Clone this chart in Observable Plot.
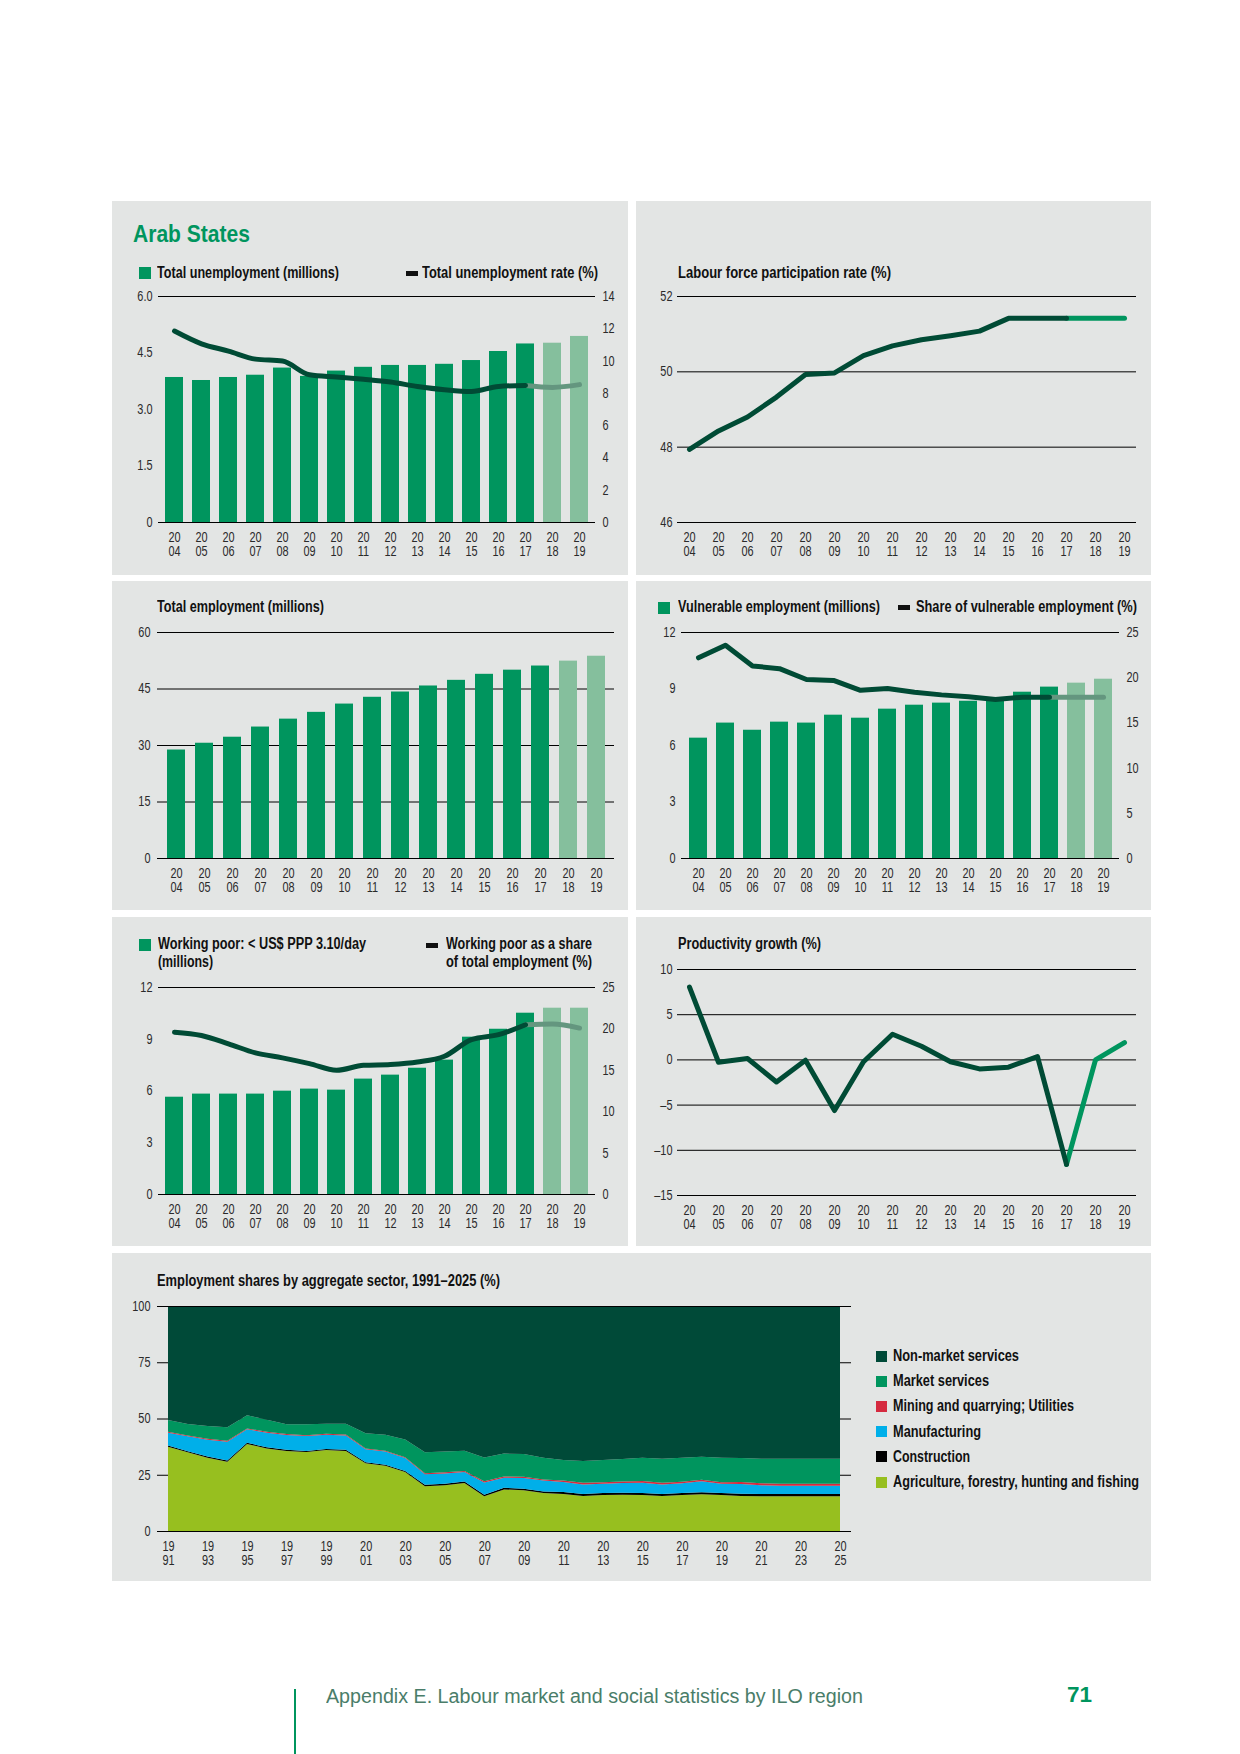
<!DOCTYPE html>
<html>
<head>
<meta charset="utf-8">
<script src="https://cdn.jsdelivr.net/npm/d3@7"></script>
<script src="https://cdn.jsdelivr.net/npm/@observablehq/plot@0.6"></script>
<style>
  html, body { margin: 0; padding: 0; background: #fff; }
  #page { position: relative; width: 1240px; height: 1754px; background: #fff; overflow: hidden;
          font-family: "Liberation Sans", Arial, sans-serif; }
  .panel { position: absolute; background: #e3e5e4; }
  .t { position: absolute; line-height: 1; white-space: nowrap; transform-origin: 0 0; }
  .abs { position: absolute; }
  svg { overflow: visible; }
</style>
</head>
<body>
<div id="page"></div>
<script>
// ---------------- DATA ----------------
const years = [2004, 2005, 2006, 2007, 2008, 2009, 2010, 2011, 2012, 2013, 2014, 2015, 2016, 2017, 2018, 2019];
const firstProjectedYear = 2018;
const lastActualYear = 2017;

const unemployment = [3.85, 3.77, 3.85, 3.91, 4.10, 3.88, 4.02, 4.12, 4.17, 4.17, 4.20, 4.30, 4.54, 4.74, 4.76, 4.94];
const unemploymentRate = [11.86, 11.07, 10.62, 10.12, 10.0, 9.15, 9.01, 8.87, 8.70, 8.43, 8.23, 8.12, 8.43, 8.49, 8.37, 8.54];

const lfpr = [47.94, 48.43, 48.80, 49.33, 49.93, 49.97, 50.43, 50.69, 50.85, 50.96, 51.08, 51.42, 51.42, 51.42, 51.42, 51.42];

const employment = [28.8, 30.6, 32.2, 34.9, 37.0, 38.8, 41.0, 42.8, 44.2, 45.8, 47.3, 48.9, 50.0, 51.1, 52.4, 53.7];

const vulnerable = [6.39, 7.19, 6.81, 7.24, 7.19, 7.61, 7.45, 7.93, 8.14, 8.25, 8.35, 8.55, 8.83, 9.10, 9.31, 9.52];
const vulnerableShare = [22.2, 23.6, 21.3, 21.0, 19.8, 19.7, 18.6, 18.8, 18.4, 18.1, 17.9, 17.6, 17.85, 17.85, 17.85, 17.85];

const workingPoor = [5.64, 5.82, 5.82, 5.82, 5.99, 6.11, 6.05, 6.69, 6.92, 7.32, 7.79, 9.12, 9.58, 10.51, 10.80, 10.80];
const workingPoorShare = [19.6, 19.2, 18.2, 17.1, 16.5, 15.8, 15.0, 15.6, 15.7, 16.0, 16.7, 18.7, 19.3, 20.5, 20.6, 20.1];

const productivity = [8.05, -0.26, 0.15, -2.44, -0.04, -5.6, -0.2, 2.84, 1.51, -0.2, -1.0, -0.8, 0.37, -11.56, 0.0, 1.92];

const sectorYears = [1991, 1992, 1993, 1994, 1995, 1996, 1997, 1998, 1999, 2000, 2001, 2002, 2003, 2004, 2005, 2006, 2007, 2008,
  2009, 2010, 2011, 2012, 2013, 2014, 2015, 2016, 2017, 2018, 2019, 2020, 2021, 2022, 2023, 2024, 2025];
const agriculture = [37.5, 35.0, 32.6, 30.8, 38.7, 36.7, 35.6, 35.1, 36.0, 35.6, 30.1, 29.0, 26.2, 19.9, 20.3, 21.3, 15.4, 18.5,
  18.1, 16.9, 16.4, 15.6, 16.0, 16.1, 16.0, 15.6, 16.0, 16.3, 16.0, 15.6, 15.4, 15.4, 15.4, 15.4, 15.4];
const construction = [0.5, 0.5, 0.5, 0.5, 0.5, 0.5, 0.5, 0.5, 0.5, 0.5, 0.5, 0.5, 0.5, 0.7, 0.7, 0.7, 0.7, 0.7,
  0.7, 0.7, 0.9, 0.9, 0.9, 0.9, 0.9, 0.9, 0.9, 0.9, 0.9, 1.0, 1.0, 1.0, 1.0, 1.0, 1.0];
const manufacturing = [5.7, 6.6, 7.5, 8.4, 6.0, 6.5, 6.6, 6.6, 6.3, 6.4, 5.7, 5.8, 5.7, 4.6, 4.6, 4.2, 5.5, 4.5,
  4.8, 4.8, 4.5, 4.2, 4.1, 4.3, 4.6, 4.2, 4.3, 4.9, 4.1, 4.3, 3.9, 3.7, 3.7, 3.7, 3.7];
const miningUtilities = [0.4, 0.4, 0.4, 0.4, 0.4, 0.4, 0.4, 0.4, 0.4, 0.4, 0.4, 0.4, 0.4, 0.5, 0.5, 0.5, 0.5, 0.5,
  0.5, 0.5, 0.7, 0.7, 0.7, 0.7, 0.7, 0.7, 0.7, 0.7, 0.7, 0.9, 0.9, 0.9, 0.9, 0.9, 0.9];
const marketServices = [5.2, 5.1, 5.7, 6.0, 5.8, 5.4, 4.3, 4.8, 4.5, 4.8, 6.7, 7.1, 7.9, 9.3, 9.2, 9.0, 10.6, 10.2,
  10.1, 9.7, 9.1, 9.7, 9.9, 10.0, 10.4, 10.7, 10.7, 10.2, 10.9, 10.6, 10.9, 11.1, 11.1, 11.1, 11.1];
const nonMarketServices = [50.7, 52.4, 53.3, 53.9, 48.6, 50.5, 52.6, 52.6, 52.3, 52.3, 56.6, 57.2, 59.3, 65.0, 64.7, 64.3, 67.3, 65.6,
  65.8, 67.4, 68.4, 68.9, 68.4, 68.0, 67.4, 67.9, 67.4, 67.0, 67.4, 67.6, 67.9, 67.9, 67.9, 67.9, 67.9];

const sectorNames = ["Agriculture, forestry, hunting and fishing", "Construction", "Manufacturing",
  "Mining and quarrying; Utilities", "Market services", "Non-market services"];
const sectorSeries = [agriculture, construction, manufacturing, miningUtilities, marketServices, nonMarketServices];
const sectorColors = ["#97bf1f", "#000000", "#00afe9", "#d52a3f", "#00955e", "#004a38"];
const sectorTicks = [1991, 1993, 1995, 1997, 1999, 2001, 2003, 2005, 2007, 2009, 2011, 2013, 2015, 2017, 2019, 2021, 2023, 2025];

// tick labels
const unempTicks = [0, 1.5, 3, 4.5, 6];
const unempTickLabels = ["0", "1.5", "3.0", "4.5", "6.0"];
const unempRateTicks = [0, 2, 4, 6, 8, 10, 12, 14];
const lfprTicks = [46, 48, 50, 52];
const lfprTickLabels = ["46", "48", "50", "52"];
const employmentTicks = [0, 15, 30, 45, 60];
const vulnTicks = [0, 3, 6, 9, 12];
const shareTicks = [0, 5, 10, 15, 20, 25];
const prodTicks = [-15, -10, -5, 0, 5, 10];
const prodTickLabels = ["\u201315", "\u201310", "\u20135", "0", "5", "10"];
const sectorShareTicks = [0, 25, 50, 75, 100];

// ---------------- STYLE ----------------
const FONT = '"Liberation Sans", Arial, sans-serif';
const GREEN = "#00955e";
const LIGHT = "#85bf9d";
const DARK = "#004b35";
const PROJ_GRAY = "#64967f";
const TICK_FILL = "#2a2a2a";
const CONDENSE = 0.78;

const page = document.getElementById("page");

function panel(l, t, w, h) {
  const d = document.createElement("div");
  d.className = "panel";
  Object.assign(d.style, {left: l + "px", top: t + "px", width: w + "px", height: h + "px"});
  page.appendChild(d);
}
// text fitted horizontally to the width it has in the reference (condensed face emulation)
function txt(s, l, baseline, size, weight, color, fitWidth) {
  const d = document.createElement("div");
  d.className = "t";
  d.textContent = s;
  Object.assign(d.style, {left: l + "px", top: (baseline - 0.85 * size) + "px", fontSize: size + "px",
    fontWeight: weight, color: color || "#111"});
  page.appendChild(d);
  const w = d.getBoundingClientRect().width;
  const k = fitWidth ? fitWidth / w : 0.8;
  d.style.transform = `scaleX(${k})`;
}
function box(l, t, w, h, color) {
  const d = document.createElement("div");
  d.className = "abs";
  Object.assign(d.style, {left: l + "px", top: t + "px", width: w + "px", height: h + "px", background: color});
  page.appendChild(d);
}
function condenseSvgText(svg) {
  svg.querySelectorAll("text").forEach((t) => {
    const tr = t.getAttribute("transform");
    if (tr) t.setAttribute("transform", tr + ` scale(${CONDENSE},1)`);
    else {
      const x = +(t.getAttribute("x") || 0);
      t.setAttribute("transform", `translate(${x},0) scale(${CONDENSE},1) translate(${-x},0)`);
    }
  });
}
function place(svg, l, t) {
  condenseSvgText(svg);
  const wrap = document.createElement("div");
  wrap.className = "abs";
  Object.assign(wrap.style, {left: l + "px", top: t + "px"});
  wrap.appendChild(svg);
  page.appendChild(wrap);
}
const yearLabel = (y) => String(y).slice(0, 2) + "\n" + String(y).slice(2);
const labelFrom = (ticks, labels) => { const m = new Map(ticks.map((t, i) => [t, labels[i]])); return (v) => m.get(v); };

const plotStyle = {background: "transparent", fontFamily: FONT, fontSize: "14px", color: TICK_FILL, overflow: "visible"};
const XPAD = 10;

// bar + line dual-axis panel
function barLinePanel({bars, line, leftTicks, leftLabels, leftMax, rightTicks, rightMax, width, height, ml, mr, mt, mb,
                       pi, po, curve}) {
  const rows = years.map((y, i) => ({year: y, v: bars[i], r: line[i] * leftMax / rightMax}));
  const rightPos = rightTicks.map((t) => t * leftMax / rightMax);
  return Plot.plot({
    width, height, marginLeft: ml, marginRight: mr, marginTop: mt, marginBottom: mb,
    style: plotStyle,
    x: {type: "band", domain: years, paddingInner: pi, paddingOuter: po, label: null},
    y: {domain: [0, leftMax], label: null},
    marks: [
      Plot.ruleY([0, leftMax], {stroke: "#000", strokeWidth: 1}),
      Plot.barY(rows, {x: "year", y: "v", fill: (d) => d.year >= firstProjectedYear ? LIGHT : GREEN}),
      Plot.line(rows.filter((d) => d.year >= lastActualYear), {x: "year", y: "r", stroke: PROJ_GRAY, strokeWidth: 5,
        strokeLinecap: "round", strokeLinejoin: "round", curve}),
      Plot.line(rows.filter((d) => d.year <= lastActualYear), {x: "year", y: "r", stroke: DARK, strokeWidth: 5,
        strokeLinecap: "round", strokeLinejoin: "round", curve}),
      Plot.axisY({ticks: leftTicks, tickSize: 0, tickPadding: 6, tickFormat: labelFrom(leftTicks, leftLabels), fill: TICK_FILL}),
      Plot.axisY({anchor: "right", ticks: rightPos, tickSize: 0, tickPadding: 7,
        tickFormat: labelFrom(rightPos, rightTicks.map(String)), fill: TICK_FILL}),
      Plot.axisX({tickSize: 0, tickPadding: XPAD, tickFormat: yearLabel, fill: TICK_FILL})
    ]
  });
}

// ---------------- PANELS ----------------
panel(112, 201, 516, 374);
panel(636, 201, 515, 374);
panel(112, 581, 516, 329);
panel(636, 581, 515, 329);
panel(112, 917, 516, 329);
panel(636, 917, 515, 329);
panel(112, 1253, 1039, 328);

// Panel 1: unemployment
txt("Arab States", 133, 242, 24, 700, GREEN, 117);
box(139, 267, 12, 12, GREEN);
txt("Total unemployment (millions)", 157, 279, 16, 700, "#111", 182);
box(406, 271, 12, 5, "#111");
txt("Total unemployment rate (%)", 422, 279, 16, 700, "#111", 176);
place(barLinePanel({bars: unemployment, line: unemploymentRate, leftTicks: unempTicks, leftLabels: unempTickLabels, leftMax: 6,
  rightTicks: unempRateTicks, rightMax: 14, width: 516, height: 276, ml: 46, mr: 33, mt: 10, mb: 40, pi: 0.34, po: 0.17,
  curve: "monotone-x"}), 112, 286);

// Panel 2: LFPR
txt("Labour force participation rate (%)", 678, 279, 16, 700, "#111", 213);
{
  const rows = years.map((y, i) => ({year: y, v: lfpr[i]}));
  place(Plot.plot({
    width: 515, height: 276, marginLeft: 41, marginRight: 15, marginTop: 10, marginBottom: 40,
    style: plotStyle,
    x: {type: "point", domain: years, padding: 0.4, label: null},
    y: {domain: [46, 52], label: null},
    marks: [
      Plot.ruleY(lfprTicks, {stroke: "#000", strokeWidth: 1}),
      Plot.line(rows.filter((d) => d.year >= lastActualYear), {x: "year", y: "v", stroke: GREEN, strokeWidth: 5, strokeLinecap: "round"}),
      Plot.line(rows.filter((d) => d.year <= lastActualYear), {x: "year", y: "v", stroke: DARK, strokeWidth: 5,
        strokeLinecap: "round", strokeLinejoin: "round"}),
      Plot.axisY({ticks: lfprTicks, tickSize: 0, tickPadding: 5, tickFormat: labelFrom(lfprTicks, lfprTickLabels), fill: TICK_FILL}),
      Plot.axisX({tickSize: 0, tickPadding: XPAD, tickFormat: yearLabel, fill: TICK_FILL})
    ]
  }), 636, 286);
}

// Panel 3: total employment
txt("Total employment (millions)", 157, 613, 16, 700, "#111", 167);
{
  const rows = years.map((y, i) => ({year: y, v: employment[i]}));
  place(Plot.plot({
    width: 516, height: 276, marginLeft: 45, marginRight: 14, marginTop: 10, marginBottom: 40,
    style: plotStyle,
    x: {type: "band", domain: years, paddingInner: 0.368, paddingOuter: 0.21, label: null},
    y: {domain: [0, 60], label: null},
    marks: [
      Plot.ruleY(employmentTicks, {stroke: "#000", strokeWidth: 1}),
      Plot.barY(rows, {x: "year", y: "v", fill: (d) => d.year >= firstProjectedYear ? LIGHT : GREEN}),
      Plot.axisY({ticks: employmentTicks, tickSize: 0, tickPadding: 7, fill: TICK_FILL}),
      Plot.axisX({tickSize: 0, tickPadding: XPAD, tickFormat: yearLabel, fill: TICK_FILL})
    ]
  }), 112, 622);
}

// Panel 4: vulnerable employment
box(658, 602, 12, 12, GREEN);
txt("Vulnerable employment (millions)", 678, 613, 16, 700, "#111", 202);
box(898, 605, 12, 5, "#111");
txt("Share of vulnerable employment (%)", 916, 613, 16, 700, "#111", 221);
place(barLinePanel({bars: vulnerable, line: vulnerableShare, leftTicks: vulnTicks, leftLabels: vulnTicks.map(String), leftMax: 12,
  rightTicks: shareTicks, rightMax: 25, width: 515, height: 276, ml: 45, mr: 32, mt: 10, mb: 40, pi: 0.34, po: 0.2,
  curve: "linear"}), 636, 622);

// Panel 5: working poor
box(139, 939, 12, 12, GREEN);
txt("Working poor: < US$ PPP 3.10/day", 158, 950, 16, 700, "#111", 208);
txt("(millions)", 158, 968, 16, 700, "#111", 55);
box(426, 943, 12, 5, "#111");
txt("Working poor as a share", 446, 950, 16, 700, "#111", 146);
txt("of total employment (%)", 446, 968, 16, 700, "#111", 146);
place(barLinePanel({bars: workingPoor, line: workingPoorShare, leftTicks: vulnTicks, leftLabels: vulnTicks.map(String), leftMax: 12,
  rightTicks: shareTicks, rightMax: 25, width: 516, height: 257, ml: 46, mr: 33, mt: 10, mb: 40, pi: 0.34, po: 0.17,
  curve: "monotone-x"}), 112, 977);

// Panel 6: productivity growth
txt("Productivity growth (%)", 678, 950, 16, 700, "#111", 143);
{
  const rows = years.map((y, i) => ({year: y, v: productivity[i]}));
  place(Plot.plot({
    width: 515, height: 276, marginLeft: 41, marginRight: 15, marginTop: 10, marginBottom: 40,
    style: plotStyle,
    x: {type: "point", domain: years, padding: 0.4, label: null},
    y: {domain: [-15, 10], label: null},
    marks: [
      Plot.ruleY(prodTicks, {stroke: "#000", strokeWidth: 1}),
      Plot.line(rows.filter((d) => d.year >= lastActualYear), {x: "year", y: "v", stroke: GREEN, strokeWidth: 5,
        strokeLinecap: "round", strokeLinejoin: "round"}),
      Plot.line(rows.filter((d) => d.year <= lastActualYear), {x: "year", y: "v", stroke: DARK, strokeWidth: 5,
        strokeLinecap: "round", strokeLinejoin: "round"}),
      Plot.axisY({ticks: prodTicks, tickSize: 0, tickPadding: 5, tickFormat: labelFrom(prodTicks, prodTickLabels), fill: TICK_FILL}),
      Plot.axisX({tickSize: 0, tickPadding: XPAD, tickFormat: yearLabel, fill: TICK_FILL})
    ]
  }), 636, 959);
}

// Panel 7: employment shares by sector
txt("Employment shares by aggregate sector, 1991\u20132025 (%)", 157, 1287, 16, 700, "#111", 343);
{
  const long = [];
  sectorSeries.forEach((series, s) => series.forEach((v, i) => long.push({year: sectorYears[i], sector: sectorNames[s], v})));
  place(Plot.plot({
    width: 750, height: 275, marginLeft: 45, marginRight: 11, marginTop: 10, marginBottom: 40,
    style: plotStyle,
    x: {domain: [1991, 2025], insetLeft: 11, insetRight: 11, label: null},
    y: {domain: [0, 100], label: null},
    color: {domain: sectorNames, range: sectorColors},
    marks: [
      Plot.ruleY([25, 50, 75], {stroke: "#000", strokeWidth: 1}),
      Plot.areaY(long, {x: "year", y: "v", z: "sector", fill: "sector", order: sectorNames}),
      Plot.ruleY([0, 100], {stroke: "#000", strokeWidth: 1}),
      Plot.axisY({ticks: sectorShareTicks, tickSize: 0, tickPadding: 7, fill: TICK_FILL}),
      Plot.axisX({ticks: sectorTicks, tickSize: 0, tickPadding: XPAD, tickFormat: yearLabel, fill: TICK_FILL})
    ]
  }), 112, 1296);
  // legend (top to bottom: reverse of stacking order)
  const legendWidths = [246, 77, 88, 181, 96, 126];
  const legendOrder = sectorNames.map((n, i) => i).reverse();
  legendOrder.forEach((si, k) => {
    const cy = 1356 + k * 25.2;
    box(876, cy - 5.5, 11, 11, sectorColors[si]);
    txt(sectorNames[si], 893, cy + 5.5, 16, 700, "#111", legendWidths[si]);
  });
}

// Footer
box(294, 1689, 2, 65, GREEN);
txt("Appendix E.  Labour market and social statistics by ILO region", 326, 1703, 20, 400, "#4a7d69", 537);
txt("71", 1067, 1703, 22, 700, GREEN, 25);
</script>
</body>
</html>
